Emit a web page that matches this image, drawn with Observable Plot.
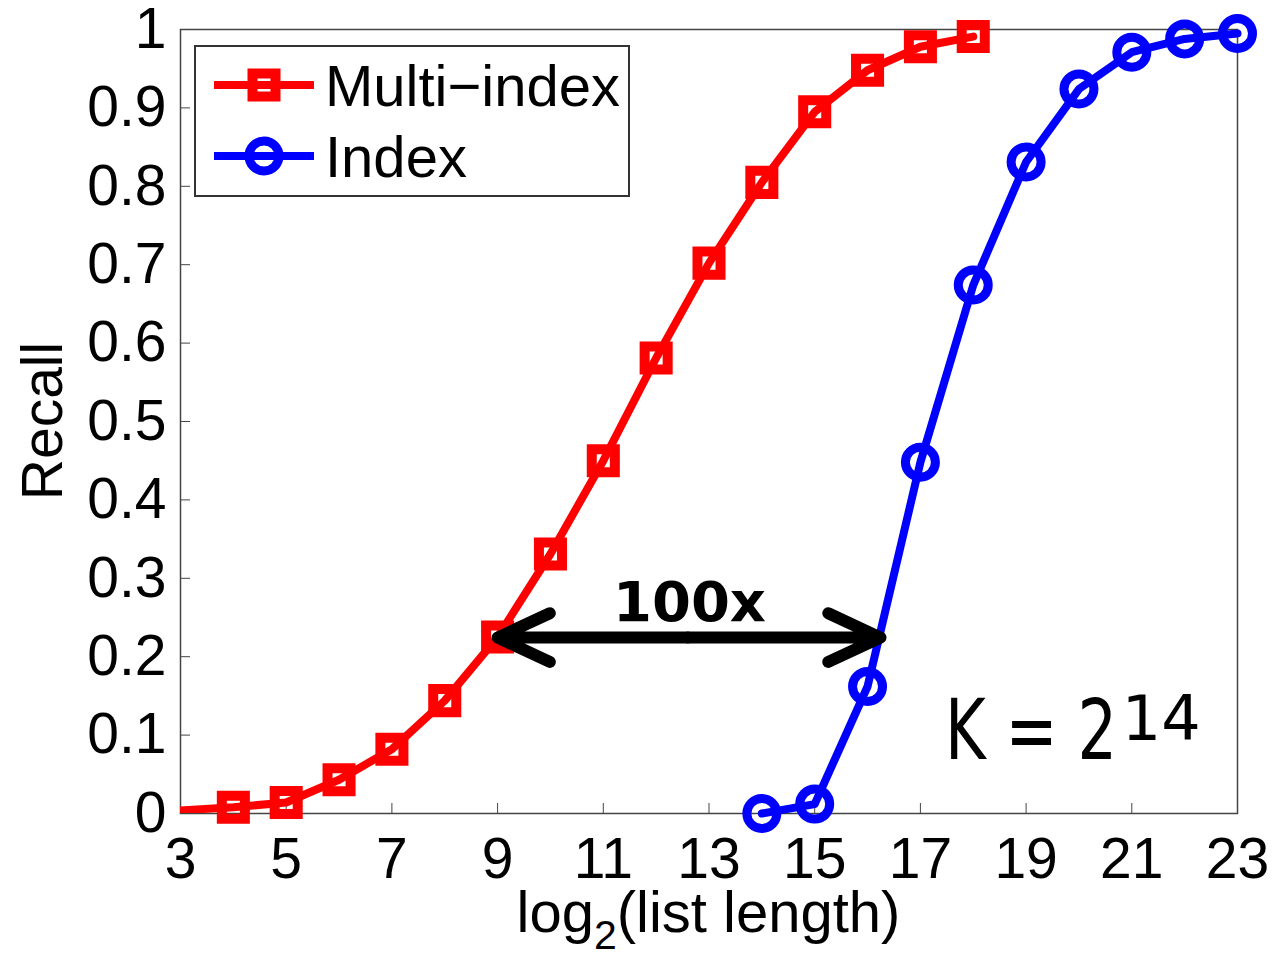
<!DOCTYPE html>
<html><head><meta charset="utf-8">
<script src="https://cdn.jsdelivr.net/npm/d3@7"></script>
<script src="https://cdn.jsdelivr.net/npm/@observablehq/plot@0.6"></script>
<style>html,body{margin:0;padding:0;background:#fff;} svg{display:block}</style>
</head><body><div id="chart"></div>
<script>
// ---- data ----
const xTicks = [3, 5, 7, 9, 11, 13, 15, 17, 19, 21, 23];
const yTicks = [0, 0.1, 0.2, 0.3, 0.4, 0.5, 0.6, 0.7, 0.8, 0.9, 1];
const yTickLabels = ["0", "0.1", "0.2", "0.3", "0.4", "0.5", "0.6", "0.7", "0.8", "0.9", "1"];
const seriesNames = ["Multi\u2212index", "Index"];
const seriesColors = ["#ff0000", "#0000ff"];
const multiX = [2, 4, 5, 6, 7, 8, 9, 10, 11, 12, 13, 14, 15, 16, 17, 18];
const multiY = [0.0, 0.008, 0.014, 0.043, 0.082, 0.144, 0.225, 0.331, 0.450, 0.581, 0.702, 0.805, 0.895, 0.948, 0.978, 0.991];
const indexX = [14, 15, 16, 17, 18, 19, 20, 21, 22, 23];
const indexY = [0.0, 0.012, 0.162, 0.448, 0.674, 0.831, 0.924, 0.971, 0.988, 0.995];
const arrowFromX = 12.6, arrowLeftX = 9.0, arrowRightX = 16.245, arrowY = 0.2244;
const speedupLabel = ["100x"]; const speedupX = 12.63, speedupY = 0.268;
const kLabel = "K = 2", kSup = "14"; const kX = 17.475, kY = 0.0686, kSupX = 20.82, kSupY = 0.093;
const xLabelParts = ["log", "2", "(list length)"];
const yLabel = "Recall";

const multi = multiX.map((x, i) => ({x, y: multiY[i]}));
const index = indexX.map((x, i) => ({x, y: indexY[i]}));
const arrows = [{x1: arrowFromX, x2: arrowLeftX, y: arrowY}, {x1: arrowFromX, x2: arrowRightX, y: arrowY}];

const font = "'Liberation Sans', Arial, sans-serif";

const plot = Plot.plot({
  width: 1274, height: 960,
  marginLeft: 180, marginRight: 37, marginTop: 29, marginBottom: 147,
  style: {fontFamily: font, background: "#fff", color: "#000"},
  x: {domain: [3, 23], label: null},
  y: {domain: [0, 1], label: null},
  marks: [
    Plot.frame({stroke: "#444", strokeWidth: 1.5}),
    Plot.axisX(xTicks, {tickSize: -10, tickPadding: 34.5, fontSize: 57, stroke: "#444", fill: "#000", label: null}),
    Plot.axisY(yTicks, {tickSize: -10, tickPadding: 24, fontSize: 57, stroke: "#444", fill: "#000", label: null,
      tickFormat: d => yTickLabels[yTicks.indexOf(d)]}),
    Plot.line(multi, {x: "x", y: "y", stroke: seriesColors[0], strokeWidth: 8, clip: true}),
    Plot.dot(multi, {filter: d => d.x >= 3, x: "x", y: "y", symbol: "square", r: 13, stroke: seriesColors[0], strokeWidth: 10, fill: "none"}),
    Plot.line(index, {x: "x", y: "y", stroke: seriesColors[1], strokeWidth: 8}),
    Plot.dot(index, {x: "x", y: "y", symbol: "circle", r: 15, stroke: seriesColors[1], strokeWidth: 9, fill: "none"}),
    Plot.arrow(arrows, {x1: "x1", x2: "x2", y1: "y", y2: "y", stroke: "#000", strokeWidth: 12, headAngle: 50, headLength: 7.2, strokeLinecap: "round", strokeLinejoin: "round"}),
    Plot.text(speedupLabel, {x: () => speedupX, y: () => speedupY, text: d => d, fontFamily: "'DejaVu Sans', sans-serif", fontWeight: "bold", fontSize: 56, fill: "#000"})
  ]
});

const svg = d3.select(plot);
const sx = plot.scale("x"), sy = plot.scale("y");
const X = v => sx.apply(v), Y = v => sy.apply(v);

// K = 2^14 annotation
svg.append("text").attr("x", X(kX)).attr("y", Y(kY)).attr("text-anchor", "start")
  .attr("font-family", "'DejaVu Sans', sans-serif").attr("font-size", 84)
  .attr("textLength", 172).attr("lengthAdjust", "spacingAndGlyphs").attr("fill", "#000").text(kLabel);
svg.append("text").attr("x", X(kSupX)).attr("y", Y(kSupY)).attr("text-anchor", "start")
  .attr("font-family", "'DejaVu Sans', sans-serif").attr("font-size", 62).attr("fill", "#000").text(kSup);

// axis labels
const xl = svg.append("text").attr("x", (X(3) + X(23)) / 2).attr("y", 932)
  .attr("text-anchor", "middle").attr("font-family", font).attr("font-size", 58).attr("fill", "#000");
xl.append("tspan").text(xLabelParts[0]);
xl.append("tspan").attr("font-size", 41).attr("dy", 17).text(xLabelParts[1]);
xl.append("tspan").attr("dy", -17).text(xLabelParts[2]);

svg.append("text").attr("transform", `translate(62,${(Y(0) + Y(1)) / 2}) rotate(-90)`)
  .attr("text-anchor", "middle").attr("font-family", font).attr("font-size", 57).attr("fill", "#000").text(yLabel);

// legend
const lg = svg.append("g");
lg.append("rect").attr("x", 195).attr("y", 46).attr("width", 434).attr("height", 150)
  .attr("fill", "#fff").attr("stroke", "#333").attr("stroke-width", 2);
const rowsY = [85, 156];
seriesNames.forEach((name, i) => {
  const yy = rowsY[i];
  lg.append("line").attr("x1", 214).attr("x2", 314).attr("y1", yy).attr("y2", yy)
    .attr("stroke", seriesColors[i]).attr("stroke-width", 8);
  if (i === 0) {
    lg.append("rect").attr("x", 264 - 11.5).attr("y", yy - 11.5).attr("width", 23).attr("height", 23)
      .attr("fill", "none").attr("stroke", seriesColors[i]).attr("stroke-width", 10);
  } else {
    lg.append("circle").attr("cx", 264).attr("cy", yy).attr("r", 15)
      .attr("fill", "none").attr("stroke", seriesColors[i]).attr("stroke-width", 9);
  }
  lg.append("text").attr("x", 325).attr("y", yy + 21).attr("text-anchor", "start").attr("font-family", font).attr("font-size", 58)
    .attr("fill", "#000").text(name);
});

document.getElementById("chart").appendChild(plot);
</script>
</body></html>
